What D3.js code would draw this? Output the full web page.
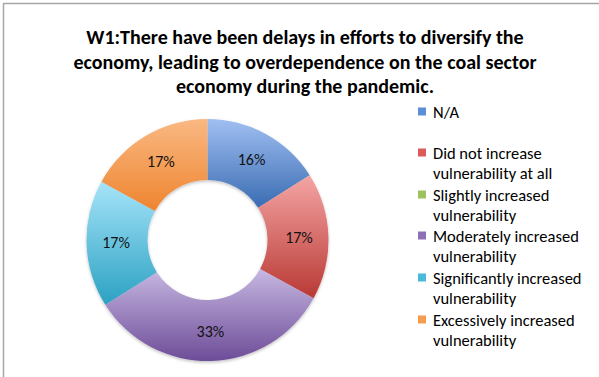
<!DOCTYPE html>
<html>
<head>
<meta charset="utf-8">
<script src="https://cdn.jsdelivr.net/npm/d3@7"></script>
<style>
  html, body { margin: 0; padding: 0; background: #fff; }
  svg { display: block; }
</style>
</head>
<body>
<svg id="chart" width="599" height="377"></svg>
<script>
const titleLines = [
  "W1:There have been delays in efforts to diversify the",
  "economy, leading to overdependence on the coal sector",
  "economy during the pandemic."
];
const categories = [
  "N/A",
  "Did not increase vulnerability at all",
  "Slightly increased vulnerability",
  "Moderately increased vulnerability",
  "Significantly increased vulnerability",
  "Excessively increased vulnerability"
];
const legendLines = [
  ["N/A"],
  ["Did not increase", "vulnerability at all"],
  ["Slightly increased", "vulnerability"],
  ["Moderately increased", "vulnerability"],
  ["Significantly increased", "vulnerability"],
  ["Excessively increased", "vulnerability"]
];
const values = [16, 17, 0, 33, 17, 17];
const labels = ["16%", "17%", "", "33%", "17%", "17%"];
const topColors = ["#a0bff2", "#f4a5a4", "#c4dc92", "#c7b8e2", "#a6e4f9", "#fab882"];
const bottomColors = ["#3a6cb2", "#b93934", "#86aa48", "#6d4c98", "#2ba1c2", "#ee8530"];
const legendColors = ["#5b8ed6", "#d95b5a", "#9cc25f", "#8e70b7", "#4bb9d9", "#f69b50"];

const FONT = "Carlito, Lato, 'Open Sans', sans-serif";
const svg = d3.select("#chart");

// frame
svg.append("line").attr("x1", 3.5).attr("y1", 3).attr("x2", 3.5).attr("y2", 377)
  .attr("stroke", "#a6a6a6").attr("stroke-width", 1.5);
svg.append("line").attr("x1", 3).attr("y1", 3.5).attr("x2", 599).attr("y2", 3.5)
  .attr("stroke", "#a6a6a6").attr("stroke-width", 1.5);

// title
svg.append("g").selectAll("text").data(titleLines).join("text")
  .attr("x", 305).attr("y", (d, i) => 44 + i * 24.5)
  .attr("text-anchor", "middle")
  .attr("font-family", FONT).attr("font-weight", "bold").attr("font-size", 20)
  .attr("fill", "#000")
  .text(d => d);

// gradients
const defs = svg.append("defs");
categories.forEach((c, i) => {
  const g = defs.append("linearGradient").attr("id", "grad" + i)
    .attr("x1", 0).attr("y1", 0).attr("x2", 0).attr("y2", 1);
  g.append("stop").attr("offset", "0%").attr("stop-color", topColors[i]);
  g.append("stop").attr("offset", "100%").attr("stop-color", bottomColors[i]);
});
const f = defs.append("filter").attr("id", "shadow").attr("x", "-10%").attr("y", "-10%")
  .attr("width", "120%").attr("height", "120%");
f.append("feDropShadow").attr("dx", 0).attr("dy", 1.5).attr("stdDeviation", 1.5)
  .attr("flood-color", "#000").attr("flood-opacity", 0.25);

// donut
const cx = 207.5, cy = 240, R = 121, r = 60;
const pie = d3.pie().sort(null).value(d => d)(values);
const arc = d3.arc().innerRadius(r).outerRadius(R);
const labelArc = d3.arc().innerRadius((R + r) / 2 + 1).outerRadius((R + r) / 2 + 1);
const g = svg.append("g").attr("transform", `translate(${cx},${cy})`);
g.append("g").attr("filter", "url(#shadow)").selectAll("path").data(pie).join("path")
  .attr("d", arc)
  .attr("fill", (d, i) => `url(#grad${i})`);
g.selectAll("text.lbl").data(pie).join("text").attr("class", "lbl")
  .attr("transform", d => `translate(${labelArc.centroid(d)})`)
  .attr("text-anchor", "middle").attr("dy", "0.35em")
  .attr("font-family", FONT).attr("font-size", 16).attr("fill", "#111")
  .text((d, i) => labels[i]);

// legend
const legendY = [112, 153, 195, 236, 278, 320];
const lg = svg.append("g");
legendLines.forEach((lines, i) => {
  lg.append("rect").attr("x", 418).attr("y", legendY[i] - 4.5).attr("width", 8).attr("height", 8)
    .attr("fill", legendColors[i]);
  lines.forEach((t, j) => {
    lg.append("text").attr("x", 433).attr("y", legendY[i] + j * 20.8 + 5.5)
      .attr("font-family", FONT).attr("font-size", 16.5).attr("fill", "#000")
      .text(t);
  });
});
</script>
</body>
</html>
